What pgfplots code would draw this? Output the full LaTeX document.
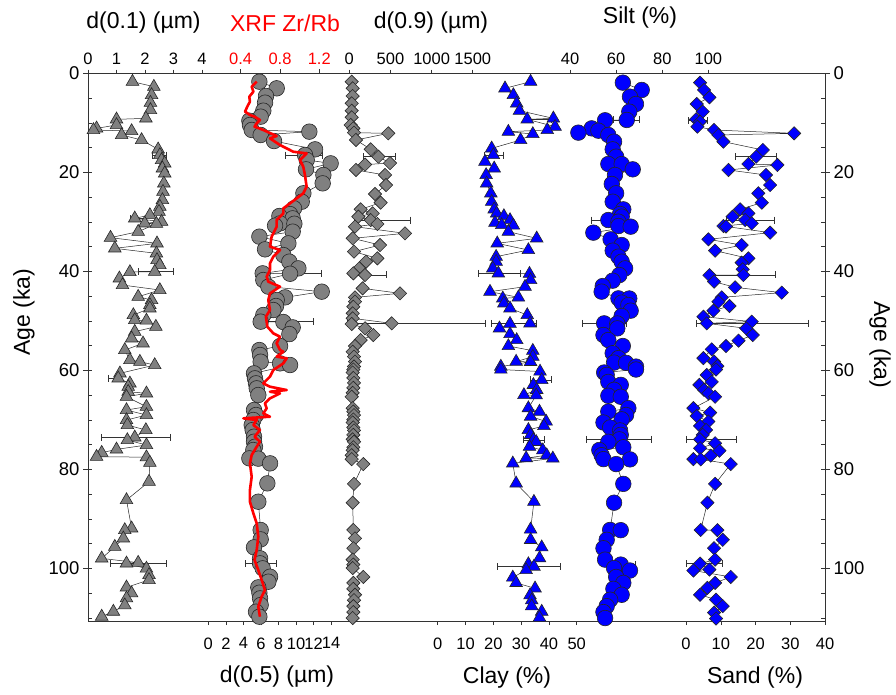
\documentclass[border=0pt]{standalone}
\usepackage{fontspec}
\setmainfont{Liberation Sans}
\usepackage{pgfplots}
\pgfplotsset{compat=1.18}
\definecolor{mgray}{RGB}{128,128,128}
\definecolor{mblue}{RGB}{0,0,255}
\definecolor{mred}{RGB}{255,0,0}
\newcommand{\tf}{\fontsize{23}{27}\selectfont}
\newcommand{\lf}{\fontsize{16.5}{19}\selectfont}
\newcommand{\yf}{\fontsize{18.5}{21}\selectfont}
\pgfplotsset{
  base/.style={scale only axis, width=737pt, height=547.5pt, at={(88pt,73pt)}, anchor=south west,
    y dir=reverse, ymin=0, ymax=110.6, clip=false,
    /pgf/number format/assume math mode=true, tick label style={font=\lf}},
  panel/.style={base, hide y axis, axis line style={draw=none}, tick align=outside,
    major tick length=4pt, xtick style={black!80, line width=0.6pt}},
  toppanel/.style={panel, axis x line*=top, xticklabel style={yshift=1pt}},
  botpanel/.style={panel, axis x line*=bottom, xticklabel style={yshift=-9pt}},
  eb/.style={black!80, line width=0.6pt, mark=|, mark size=3.5pt, mark options={solid, line width=0.6pt}},
  conn/.style={black!85, line width=0.5pt},
  gtri/.style={conn, mark=triangle*, mark size=7.3pt, mark options={fill=mgray, draw=black!85, line width=0.6pt}},
  gcirc/.style={conn, mark=*, mark size=7.8pt, mark options={fill=mgray, draw=black!85, line width=0.6pt}},
  gdia/.style={conn, mark=square*, mark size=4.7pt, mark options={rotate=45, fill=mgray, draw=black!85, line width=0.6pt}},
  btri/.style={conn, mark=triangle*, mark size=7.3pt, mark options={fill=mblue, draw=black!85, line width=0.6pt}},
  bcirc/.style={conn, mark=*, mark size=7.8pt, mark options={fill=mblue, draw=black!85, line width=0.6pt}},
  bdia/.style={conn, mark=square*, mark size=4.7pt, mark options={rotate=45, fill=mblue, draw=black!85, line width=0.6pt}},
}
\begin{document}
\begin{tikzpicture}[x=1pt,y=1pt]
\path[use as bounding box] (0,0) rectangle (896,694);
% frame with left labels
\begin{axis}[base, xmin=0, xmax=1, xtick=\empty, ytick={0,20,40,60,80,100},
  yticklabels={0,20,40,60,80,100}, ytick pos=left, tick align=outside, major tick length=5pt,
  yticklabel style={font=\yf}, axis line style={line width=0.8pt, black!80}, ytick style={black!80, line width=0.6pt}]
\end{axis}
% right labels
\begin{axis}[base, xmin=0, xmax=1, xtick=\empty, ytick={0,20,40,60,80,100},
  yticklabels={0,20,40,60,80,100}, ytick pos=right, yticklabel pos=right, tick align=outside, major tick length=5pt,
  yticklabel style={font=\yf}, axis line style={draw=none}, ytick style={black!80, line width=0.6pt}]
\end{axis}
% minor ticks inside
\begin{axis}[base, xmin=0, xmax=1, xtick=\empty, ytick={5,10,...,110}, yticklabels={},
  ytick pos=both, tick align=inside, major tick length=4pt, axis line style={draw=none}, ytick style={black!80, line width=0.6pt}]
\end{axis}

% ---------- d(0.1) ----------
\begin{axis}[toppanel, xmin=0, xmax=25.85, xtick={0,1,2,3,4}, xticklabels={0,1,2,3,4}]
\addplot[eb] coordinates {(2.26,16.5) (2.73,16.5)};
\addplot[eb] coordinates {(1.47,29.3) (2.05,29.3)};
\addplot[eb] coordinates {(1.76,40.0) (2.98,40.0)};
\addplot[eb] coordinates {(0.71,61.6) (1.17,61.6)};
\addplot[eb] coordinates {(0.48,73.5) (2.87,73.5)};
\addplot[eb] coordinates {(0.77,99.0) (2.75,99.0)};
\addplot[gtri] coordinates {
(1.56,1.65) (2.31,2.66) (2.23,4.34) (2.19,5.89) (2.19,7.37) (2.03,9.06) (1.00,9.26) (1.00,10.40)
(0.30,11.08) (0.19,11.41) (1.53,11.62) (1.18,12.42) (1.88,13.43) (2.46,15.32) (2.52,16.46) (2.58,17.47)
(2.69,18.15) (2.61,19.16) (2.69,20.17) (2.66,22.19) (2.63,23.87) (2.61,25.56) (2.52,26.9) (2.49,27.91)
(2.17,28.59) (1.64,29.26) (2.58,29.93) (1.99,30.27) (2.40,30.35) (1.76,31.95) (0.79,33.16) (2.42,34.31)
(0.94,35.32) (2.40,36.33) (2.42,37.68) (2.52,38.69) (2.34,40.03) (1.47,40.1) (1.10,41.38) (1.21,42.73)
(2.52,43.74) (1.76,45.09) (2.23,45.76) (2.17,46.77) (2.17,47.44) (1.59,48.79) (1.64,49.8) (2.05,49.9)
(2.38,51.14) (1.64,52.15) (1.53,53.5) (1.93,54.51) (1.29,55.86) (1.47,57.88) (1.82,58.22) (2.34,58.89)
(1.12,60.57) (1.06,61.58) (1.47,62.6) (1.41,63.27) (1.41,64.28) (2.05,64.61) (1.35,65.29) (2.05,67.31)
(1.35,67.98) (2.05,68.99) (1.35,70.0) (1.38,71.01) (2.03,72.02) (1.64,73.5) (1.38,74.04) (2.05,75.05)
(1.00,75.93) (0.48,76.6) (0.30,77.41) (2.05,77.5) (2.17,78.62) (2.14,82.45) (1.35,86.16) (1.53,91.88)
(1.29,92.22) (1.24,93.9) (0.94,95.59) (0.48,97.95) (1.76,98.82) (1.35,98.96) (2.05,100.0) (2.14,101.3)
(2.14,102.3) (1.35,103.8) (1.53,105.0) (1.35,106.0) (1.29,107.4) (0.89,108.7) (0.48,109.7)};
\end{axis}

% ---------- XRF Zr/Rb ticks ----------
\begin{axis}[toppanel, xmin=-1.154, xmax=6.347, xtick={0.4,0.8,1.2}, xticklabels={0.4,0.8,1.2},
  xticklabel style={text=mred}]
\end{axis}

% ---------- d(0.5) ----------
\begin{axis}[botpanel, xmin=-13.72, xmax=70.32, xtick={0,2,...,14}, xticklabels={0,2,4,6,8,10,12,14}]
\addplot[eb] coordinates {(8.75,16.5) (13.04,16.5)};
\addplot[eb] coordinates {(8.56,40.4) (12.93,40.4)};
\addplot[eb] coordinates {(5.13,50.1) (11.97,50.1)};
\addplot[eb] coordinates {(4.18,99.0) (7.72,99.0)};
\addplot[gcirc] coordinates {
(5.82,1.65) (7.80,2.99) (6.58,4.55) (6.47,5.89) (6.27,7.51) (5.97,8.72) (4.68,9.53) (4.75,10.40)
(4.95,11.41) (11.52,11.75) (5.97,12.42) (7.49,13.64) (12.17,15.32) (11.03,16.46) (11.22,17.47) (13.95,18.15)
(11.14,19.36) (13.12,20.5) (13.04,22.19) (10.84,24.2) (10.65,25.9) (9.77,27.24) (9.32,28.4) (8.10,28.79)
(9.62,29.26) (8.18,30.27) (9.81,30.35) (7.61,30.74) (9.62,31.95) (5.82,32.96) (9.13,34.31) (6.47,35.52)
(8.56,36.67) (9.24,38.01) (10.27,39.36) (6.20,40.37) (9.32,40.45) (6.27,41.72) (6.85,43.06) (12.93,44.07)
(8.75,45.22) (7.80,45.76) (7.72,46.97) (7.42,47.78) (6.27,48.79) (5.97,50.13) (8.56,50.2) (9.62,51.28)
(9.24,52.63) (8.18,55.05) (5.82,55.86) (5.90,56.87) (5.97,58.22) (8.18,58.55) (9.32,58.89) (5.21,60.57)
(5.32,61.58) (5.44,62.59) (5.52,63.6) (5.70,64.95) (5.21,67.98) (5.44,68.99) (5.13,70.0) (4.95,71.01)
(5.06,72.02) (5.21,73.37) (5.21,74.38) (5.32,75.39) (5.13,76.06) (4.68,77.74) (5.70,77.8) (7.04,78.75)
(6.73,82.79) (5.70,86.5) (5.97,92.22) (5.97,94.11) (5.21,95.72) (5.90,97.94) (5.90,98.95) (6.20,99.96)
(7.04,101.65) (6.85,102.66) (5.70,103.8) (5.82,104.88) (5.90,106.03) (5.97,107.37) (5.44,108.72) (5.82,109.73)};
\end{axis}

% XRF line on top of circles
\begin{axis}[panel, hide x axis, xmin=-1.154, xmax=6.347]
\addplot[mred, line width=2.6pt, line join=round] coordinates {
(0.563,1.65) (0.512,2.66) (0.529,3.67) (0.488,4.68) (0.494,5.69) (0.467,6.7) (0.444,7.7) (0.494,8.38)
(0.541,8.72) (0.596,9.39) (0.563,10.07) (0.541,10.74) (0.630,11.41) (0.766,12.63) (0.698,13.1) (0.80,14.45)
(0.935,15.8) (1.071,16.13) (1.003,17.47) (1.037,18.82) (1.054,20.5) (1.071,22.86) (1.037,24.2) (0.970,25.21)
(0.902,26.22) (0.834,27.24) (0.834,28.25) (0.766,29.6) (0.766,30.94) (0.715,32.96) (0.698,34.98) (0.80,35.66)
(0.732,37.0) (0.698,38.35) (0.698,39.7) (0.664,41.04) (0.681,42.05) (0.80,43.06) (0.698,44.41) (0.681,45.76)
(0.698,47.78) (0.657,49.12) (0.671,51.14) (0.732,52.49) (0.80,53.16) (0.766,54.51) (0.80,55.86) (0.834,56.2)
(0.766,57.2) (0.868,57.53) (0.834,58.55) (0.732,59.9) (0.698,61.24) (0.630,62.59) (0.698,63.27) (0.868,63.94)
(0.698,64.28) (0.80,64.61) (0.698,65.62) (0.647,66.63) (0.664,67.64) (0.630,68.65) (0.698,69.33) (0.427,69.66)
(0.563,70.0) (0.529,71.01) (0.596,72.02) (0.541,73.37) (0.596,74.38) (0.563,75.39) (0.512,77.07) (0.494,78.75)
(0.512,81.45) (0.494,84.14) (0.494,86.5) (0.529,88.85) (0.563,90.87) (0.579,93.56) (0.563,96.26) (0.541,98.28)
(0.579,100.3) (0.613,102.3) (0.647,104.35) (0.613,105.7) (0.579,107.7) (0.596,109.73)};
\end{axis}

% ---------- d(0.9) ----------
\begin{axis}[toppanel, xmin=-3175, xmax=5780, xtick={0,500,1000,1500}, xticklabels={0,500,1000,1500}]
\addplot[eb] coordinates {(170,16.8) (555,16.8)};
\addplot[eb] coordinates {(60,29.6) (738,29.6)};
\addplot[eb] coordinates {(8,40.7) (446,40.7)};
\addplot[eb] coordinates {(-30,50.5) (1650,50.5)};
\addplot[gdia] coordinates {
(29,1.65) (41,2.99) (41,4.55) (29,6.03) (29,7.51) (29,8.85) (17,10.4) (49,11.08) (57,11.95) (474,12.09)
(81,13.43) (260,15.32) (353,16.8) (495,18.1) (191,18.4) (81,19.49) (434,20.5) (446,22.53) (312,24.34)
(381,26.09) (138,27.44) (284,28.25) (110,28.92) (260,29.6) (341,30.4) (69,30.94) (677,32.29) (41,33.3)
(373,34.65) (57,35.99) (341,37.34) (203,38.01) (122,39.36) (49,40.37) (191,40.71) (162,43.4) (616,44.41)
(69,45.22) (69,46.09) (49,47.1) (41,48.45) (41,49.46) (515,50.47) (29,50.6) (191,51.48) (292,52.83)
(138,53.84) (69,55.05) (41,56.2) (57,57.2) (69,58.2) (57,59.2) (49,59.8) (41,60.4) (49,61.5) (57,62.5)
(49,63.5) (41,64.5) (29,65.3) (41,67.6) (49,68.3) (57,69.0) (49,69.9) (41,70.5) (49,71.5) (57,72.1)
(49,73.0) (41,73.9) (57,74.4) (49,75.5) (41,76.1) (29,77.1) (29,77.9) (170,78.9) (57,82.9) (41,86.7)
(49,92.2) (69,93.9) (49,95.9) (41,98.2) (49,99.2) (41,99.9) (170,101.7) (49,102.9) (49,104.1) (69,105.3)
(57,106.4) (49,107.6) (49,108.8) (41,110.0)};
\end{axis}

% ---------- Clay ----------
\begin{axis}[botpanel, xmin=-125.8, xmax=139.3, xtick={0,10,...,50}, xticklabels={0,10,20,30,40,50}]
\addplot[eb] coordinates {(31,9.2) (41,9.2)};
\addplot[eb] coordinates {(16.7,16.5) (23.6,16.5)};
\addplot[eb] coordinates {(14.6,40.4) (29.6,40.4)};
\addplot[eb] coordinates {(19.4,50.5) (35.6,50.5)};
\addplot[eb] coordinates {(33.2,61.9) (41.0,61.9)};
\addplot[eb] coordinates {(30.8,74.0) (38.2,74.0)};
\addplot[eb] coordinates {(21.4,99.6) (44.0,99.6)};
\addplot[btri] coordinates {
(33.4,1.65) (24.2,2.99) (27.2,4.34) (28.4,6.03) (29.4,7.51) (41.6,9.06) (32.2,9.26) (42.2,10.74)
(39.4,11.41) (25.4,11.75) (34.2,12.22) (29.8,13.43) (19.4,15.12) (20.0,16.46) (17.0,17.81) (20.3,19.16)
(17.4,20.5) (17.6,22.19) (19.1,24.2) (19.4,25.9) (20.3,27.44) (21.2,28.25) (23.8,28.79) (26.0,29.6)
(20.6,30.13) (23.0,30.61) (27.2,30.7) (25.4,31.95) (35.6,33.3) (21.4,34.31) (32.6,35.66) (21.0,37.0)
(21.0,38.01) (19.8,39.36) (21.8,40.37) (33.0,40.45) (33.4,41.72) (31.4,43.06) (18.8,44.07) (29.0,45.22)
(23.4,45.42) (23.8,46.43) (26.0,47.44) (32.2,48.79) (33.2,50.47) (26.0,50.55) (22.2,51.48) (26.0,52.63)
(28.4,53.84) (25.4,55.05) (34.2,56.0) (34.2,57.2) (28.2,58.2) (33.4,58.25) (22.7,59.2) (22.7,59.8)
(36.8,60.2) (37.4,61.9) (34.4,62.9) (35.6,63.9) (31.0,64.95) (35.4,65.0) (32.6,67.6) (36.6,68.3)
(33.4,69.3) (39.0,70.3) (38.2,71.2) (32.6,72.0) (33.4,73.0) (34.4,74.0) (35.4,74.4) (33.0,75.4)
(37.8,76.1) (39.2,77.1) (31.8,77.7) (41.4,77.75) (27.0,78.75) (28.2,82.8) (34.6,86.5) (33.4,92.1)
(33.4,94.2) (37.4,95.7) (36.6,97.9) (32.6,99.1) (34.6,99.6) (31.8,100.3) (27.0,101.8) (28.2,102.9)
(35.0,104.0) (33.2,105.4) (33.8,106.4) (33.8,107.6) (37.4,108.7) (36.6,109.9)};
\end{axis}

% ---------- Silt ----------
\begin{axis}[toppanel, xmin=-169.1, xmax=150.6, xtick={40,60,80,100}, xticklabels={40,60,80,100}]
\addplot[eb] coordinates {(58.8,9.39) (70.1,9.39)};
\addplot[eb] coordinates {(49.4,29.6) (65.3,29.6)};
\addplot[eb] coordinates {(45.5,50.47) (64.6,50.47)};
\addplot[eb] coordinates {(47.2,73.9) (75.4,73.9)};
\addplot[eb] coordinates {(56.0,99.2) (68.2,99.2)};
\addplot[bcirc] coordinates {
(62.9,1.85) (71.1,3.33) (66.0,4.68) (68.6,6.16) (65.7,7.71) (64.6,9.39) (55.2,9.45) (49.4,11.08)
(52.3,11.55) (43.6,11.95) (56.6,12.42) (59.1,13.77) (58.5,15.32) (60.0,16.8) (56.6,18.28) (62.4,18.3)
(67.2,19.36) (59.5,20.5) (58.1,22.32) (60.0,24.2) (58.5,25.9) (63.1,27.44) (61.7,28.38) (62.4,28.92)
(56.6,29.6) (61.0,29.93) (61.0,30.81) (66.3,30.94) (50.1,32.15) (57.6,33.5) (62.4,34.65) (58.5,35.79)
(61.0,37.0) (62.4,38.01) (63.9,39.36) (61.4,40.71) (58.5,41.85) (54.2,42.93) (53.7,44.07) (61.0,45.42)
(65.7,45.45) (62.4,46.29) (65.3,46.77) (66.3,47.91) (62.4,48.99) (54.8,50.47) (60.5,50.5) (60.5,51.48)
(54.5,52.83) (56.6,53.84) (62.9,55.05) (58.5,56.5) (61.0,57.5) (59.1,58.4) (64.3,58.45) (68.6,59.2)
(68.6,59.8) (54.8,60.4) (55.9,60.9) (56.6,62.3) (62.0,62.9) (59.1,63.9) (56.6,65.1) (62.0,65.3)
(65.3,67.6) (56.6,68.3) (64.3,68.98) (62.4,69.86) (54.5,70.5) (57.4,71.5) (61.7,72.1) (62.0,73.0)
(61.4,73.9) (56.6,74.4) (63.1,75.5) (52.7,76.06) (53.7,77.1) (54.5,77.9) (66.0,77.95) (60.0,78.9)
(63.1,82.9) (59.1,86.7) (57.4,92.2) (62.0,92.25) (55.9,94.2) (54.5,95.9) (55.2,98.2) (62.0,99.2)
(59.1,99.9) (66.0,100.4) (60.0,101.7) (63.1,102.9) (58.8,104.1) (62.4,105.3) (57.4,106.3) (55.9,107.6)
(54.5,108.8) (55.2,110.0)};
\end{axis}

% ---------- Sand ----------
\begin{axis}[botpanel, xmin=-172.2, xmax=40, xtick={0,10,...,40}, xticklabels={0,10,20,30,40}]
\addplot[eb] coordinates {(0.7,9.5) (6.0,9.5)};
\addplot[eb] coordinates {(14.1,16.8) (26.0,16.8)};
\addplot[eb] coordinates {(11.6,29.6) (25.3,29.6)};
\addplot[eb] coordinates {(6.4,40.7) (25.6,40.7)};
\addplot[eb] coordinates {(2.9,50.47) (35.1,50.47)};
\addplot[eb] coordinates {(0.2,73.9) (14.4,73.9)};
\addplot[eb] coordinates {(0.2,99.0) (10.3,99.0)};
\addplot[bdia] coordinates {
(4.03,1.85) (5.18,3.33) (6.72,4.81) (3.07,6.16) (4.80,7.71) (2.88,9.26) (4.03,9.73) (3.26,10.74)
(8.06,11.41) (31.1,12.09) (9.31,12.42) (10.75,13.77) (22.1,15.45) (20.2,16.8) (17.95,18.28) (26.3,18.48)
(12.2,19.49) (23.0,20.5) (24.2,22.53) (20.8,24.2) (21.8,26.09) (15.55,27.44) (17.95,28.25) (13.4,28.92)
(17.0,29.6) (18.9,30.27) (10.75,30.81) (11.5,30.9) (24.2,32.15) (6.43,33.5) (16.0,34.65) (8.35,35.79)
(17.95,37.34) (16.0,38.21) (16.3,39.56) (16.5,40.71) (6.72,40.75) (8.06,42.05) (14.1,43.2) (27.55,44.27)
(10.27,45.22) (9.31,46.09) (12.5,46.97) (7.87,47.91) (4.99,49.12) (18.9,50.13) (5.95,50.47) (17.3,51.48)
(19.2,52.83) (15.1,53.97) (11.5,55.05) (7.39,55.72) (4.99,57.5) (8.06,58.2) (9.02,59.1) (8.64,59.8)
(5.95,60.9) (7.39,62.3) (3.84,62.9) (5.18,63.9) (6.43,64.6) (8.35,65.3) (2.11,67.6) (6.91,68.5)
(3.07,69.2) (6.43,70.3) (4.03,71.2) (5.76,72.0) (4.80,73.0) (4.03,73.9) (8.35,74.7) (4.03,75.7)
(9.6,76.2) (7.10,77.2) (2.11,77.9) (4.22,77.95) (12.86,78.9) (8.35,82.9) (6.14,86.7) (4.22,92.2)
(9.02,92.25) (10.56,94.2) (8.06,95.9) (8.35,98.2) (4.03,99.0) (6.72,100.2) (2.11,100.4) (12.86,101.7)
(8.35,102.9) (6.14,103.9) (4.03,105.3) (8.64,106.3) (10.56,107.6) (8.06,108.9) (8.64,110.1)};
\end{axis}

% titles
\node[font=\tf] at (143.5,671) {d(0.1) (µm)};
\node[font=\tf, text=mred] at (285,671) {XRF Zr/Rb};
\node[font=\tf] at (431,671) {d(0.9) (µm)};
\node[font=\tf] at (640,676) {Silt (\%)};
\node[font=\tf] at (277,17) {d(0.5) (µm)};
\node[font=\tf] at (507,16) {Clay (\%)};
\node[font=\tf] at (755,16) {Sand (\%)};
\node[font=\tf, rotate=90] at (24,382) {Age (ka)};
\node[font=\tf, rotate=-90] at (880,349) {Age (ka)};
\end{tikzpicture}
\end{document}
